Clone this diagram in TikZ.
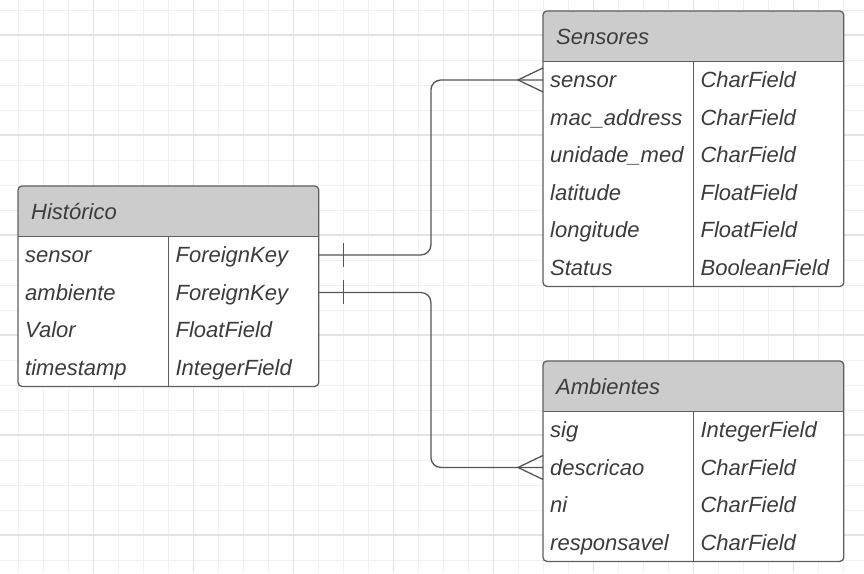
\documentclass[tikz,border=0pt]{standalone}
\usepackage{fontspec}
\setmainfont{Liberation Sans}
\usetikzlibrary{calc}
\pgfdeclarelayer{bg}
\pgfsetlayers{bg,main}
\definecolor{gridminor}{HTML}{F1F1F1}
\definecolor{gridmajor}{HTML}{E3E3E3}
\definecolor{headfill}{HTML}{CCCCCC}
\definecolor{boxline}{HTML}{5F5F5F}
\definecolor{connline}{HTML}{555555}
\definecolor{txt}{HTML}{3C3C3C}
\tikzset{
  tblcell/.style={minimum height=37.5pt, text width=136pt, inner xsep=7pt, inner ysep=0pt,
    text height=19pt, text depth=3pt, align=left, font=\fontsize{22}{26}\selectfont\itshape, text=txt},
  tblhead/.style={minimum height=50pt, text width=274pt, inner xsep=13pt, inner ysep=0pt,
    text height=19pt, text depth=3pt, align=left, font=\fontsize{22}{26}\selectfont\itshape, text=txt},
  tblline/.style={draw=boxline, line width=1.3pt},
  conn/.style={draw=connline, line width=1.3pt},
}
\newcommand\ertable[6]{%
  \node[tblhead, anchor=north west] (#1-h) at (#2,#3) {#4};
  \foreach \fa/\fb [count=\i] in {#6} {
    \node[tblcell, anchor=north west] (#1-\i-n) at ({#2},{#3+50+37.5*(\i-1)}) {\fa};
    \node[tblcell, anchor=north west] (#1-\i-t) at (#1-\i-n.north east) {\fb};
  }
  \begin{pgfonlayer}{bg}
    \fill[white, rounded corners=4pt] (#1-h.north west) rectangle (#1-#5-t.south east);
    \fill[headfill, rounded corners=4pt] (#1-h.north west) rectangle (#1-h.south east);
    \fill[headfill] (#1-h.west) rectangle (#1-h.south east);
  \end{pgfonlayer}
  \draw[tblline, rounded corners=4pt] (#1-h.north west) rectangle (#1-#5-t.south east);
  \draw[tblline] (#1-h.south west) -- (#1-h.south east);
  \draw[tblline] (#1-1-n.north east) -- (#1-#5-n.south east);
}
\begin{document}
\begin{tikzpicture}[x=1pt, y=-1pt]
\useasboundingbox (0,0) rectangle (864,573);
\begin{pgfonlayer}{bg}
  \fill[white] (0,0) rectangle (864,573);
  \foreach \k in {0,...,33} \draw[gridminor, line width=1pt] (18.333+25*\k,0) -- (18.333+25*\k,573);
  \foreach \k in {0,...,22} \draw[gridminor, line width=1pt] (0,10+25*\k) -- (864,10+25*\k);
  \foreach \k in {0,...,7} \draw[gridmajor, line width=1.2pt] (93.333+100*\k,0) -- (93.333+100*\k,573);
  \foreach \k in {0,...,5} \draw[gridmajor, line width=1.2pt] (0,35+100*\k) -- (864,35+100*\k);
\end{pgfonlayer}

\ertable{hist}{18}{186}{Histórico}{4}{sensor/ForeignKey, ambiente/ForeignKey, Valor/FloatField, timestamp/IntegerField}
\ertable{sens}{543}{11}{Sensores}{6}{sensor/CharField, mac\_address/CharField, unidade\_med/CharField, latitude/FloatField, longitude/FloatField, Status/BooleanField}
\ertable{amb}{543}{361}{Ambientes}{4}{sig/IntegerField, descricao/CharField, ni/CharField, responsavel/CharField}

% connector Historico.sensor -> Sensores.sensor
\coordinate (m1) at ($(hist-1-t.east)!.5!(sens-1-n.west)$);
\draw[conn, rounded corners=10pt] (hist-1-t.east) -- (hist-1-t.east -| m1) -- (m1 |- sens-1-n.west) -- (sens-1-n.west);
\draw[conn] ($(hist-1-t.east)+(25,-12)$) -- ($(hist-1-t.east)+(25,12)$);
\draw[conn] ($(sens-1-n.west)+(0,-12)$) -- ($(sens-1-n.west)+(-25,0)$) -- ($(sens-1-n.west)+(0,12)$);

% connector Historico.ambiente -> Ambientes.descricao
\coordinate (m2) at ($(hist-2-t.east)!.5!(amb-2-n.west)$);
\draw[conn, rounded corners=10pt] (hist-2-t.east) -- (hist-2-t.east -| m2) -- (m2 |- amb-2-n.west) -- (amb-2-n.west);
\draw[conn] ($(hist-2-t.east)+(25,-12)$) -- ($(hist-2-t.east)+(25,12)$);
\draw[conn] ($(amb-2-n.west)+(0,-12)$) -- ($(amb-2-n.west)+(-25,0)$) -- ($(amb-2-n.west)+(0,12)$);
\end{tikzpicture}
\end{document}
